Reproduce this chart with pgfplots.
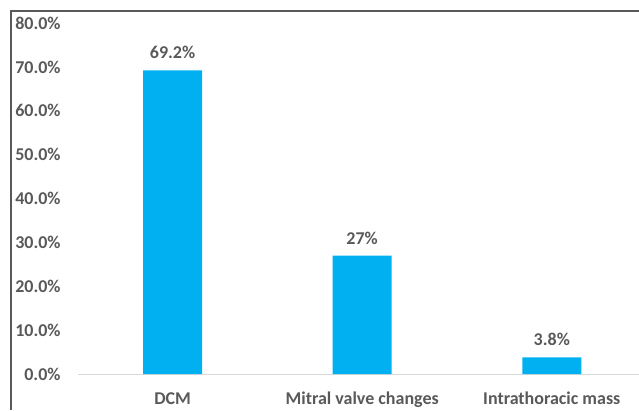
\documentclass[border=0pt]{standalone}
\usepackage{pgfplots}
\pgfplotsset{compat=1.18}
\usepackage{fontspec}
\setmainfont{Carlito}
\definecolor{barc}{HTML}{00B0F0}
\definecolor{txt}{HTML}{595959}
\definecolor{grid}{HTML}{D9D9D9}
\begin{document}
\begin{tikzpicture}[x=1pt,y=1pt]
\useasboundingbox (0,0) rectangle (639,410);
\draw[color=txt, line width=1.6pt] (11,0) -- (11,399) -- (639,399);
\begin{axis}[
  at={(77.75pt,36pt)}, anchor=south west,
  scale only axis, width=561.25pt, height=351pt,
  xmin=-0.5, xmax=2.46, ymin=0, ymax=80,
  axis x line=bottom, axis y line=left,
  x axis line style={draw=grid, line width=1pt, -},
  y axis line style={draw=none},
  major tick length=0pt,
  /pgf/number format/assume math mode=true,
  xtick={0,1,2},
  xticklabels={DCM, Mitral valve changes, Intrathoracic mass},
  ytick={0,10,...,80},
  yticklabel={\pgfmathprintnumber[fixed,fixed zerofill,precision=1,assume math mode=true]{\tick}\%},
  ticklabel style={font=\bfseries\fontsize{18}{20}\selectfont, text=txt, inner sep=0pt},
  yticklabel style={anchor=east, xshift=-17pt},
  xticklabel style={anchor=base, yshift=-30.5pt},
  ybar, bar width=59pt,
  nodes near coords,
  point meta=explicit symbolic,
  every node near coord/.append style={font=\bfseries\fontsize{18}{20}\selectfont, text=txt, anchor=base, inner sep=0pt, yshift=11.5pt},
  clip=false,
]
\addplot[fill=barc, draw=none] coordinates {(0,69.2) [69.2\%] (1,27) [27\%] (2,3.8) [3.8\%]};
\end{axis}
\end{tikzpicture}
\end{document}
